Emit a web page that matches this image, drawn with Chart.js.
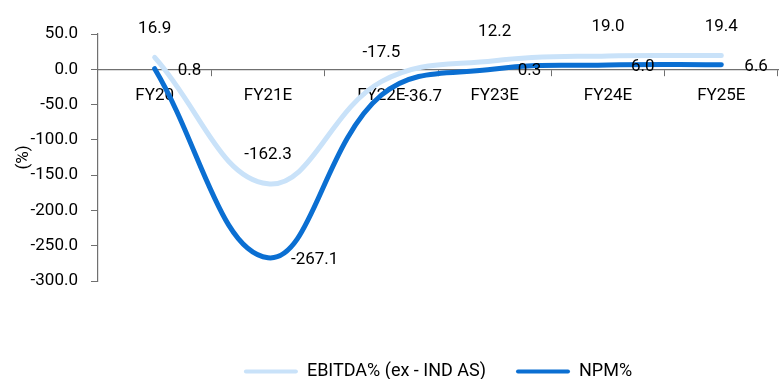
<!DOCTYPE html>
<html><head><meta charset="utf-8">
<script src="https://cdn.jsdelivr.net/npm/chart.js@4/dist/chart.umd.min.js"></script>
<style>html,body{margin:0;padding:0;background:#fff}#wrap{width:781px;height:379px}</style>
</head><body><div id="wrap"><canvas id="c" width="781" height="379"></canvas></div>
<script>
const categories = ['FY20', 'FY21E', 'FY22E', 'FY23E', 'FY24E', 'FY25E'];
const ebitdaMargin = [16.9, -162.3, -17.5, 12.2, 19.0, 19.4];
const netProfitMargin = [0.8, -267.1, -36.7, 0.3, 6.0, 6.6];
const seriesNames = ['EBITDA% (ex - IND AS)', 'NPM%'];
const yMin = -300, yMax = 50, yStep = 50;
const yTitle = '(%)';

const FONT = 'Roboto';
const FS = 17;
const AXIS = '#707070';

const valueLabels = {
  id: 'valueLabels',
  afterDatasetsDraw(chart) {
    const ctx = chart.ctx;
    ctx.save();
    ctx.font = FS + 'px ' + FONT;
    ctx.fillStyle = '#000';
    ctx.textBaseline = 'middle';
    chart.data.datasets.forEach((ds, i) => {
      const meta = chart.getDatasetMeta(i);
      meta.data.forEach((pt, j) => {
        const txt = ds.data[j].toFixed(1);
        if (i === 0) { ctx.textAlign = 'center'; ctx.fillText(txt, pt.x, pt.y - 29); }
        else { ctx.textAlign = 'left'; ctx.fillText(txt, pt.x + 23, pt.y + 2); }
      });
    });
    ctx.restore();
  }
};

new Chart(document.getElementById('c'), {
  type: 'line',
  data: {
    labels: categories,
    datasets: [
      { label: seriesNames[0], data: ebitdaMargin, borderColor: '#c9e2f9', backgroundColor: '#c9e2f9',
        borderWidth: 5, pointRadius: 0, tension: 0.4, fill: false, order: 1, borderCapStyle: 'round' },
      { label: seriesNames[1], data: netProfitMargin, borderColor: '#0b6fd2', backgroundColor: '#0b6fd2',
        borderWidth: 5, pointRadius: 0, tension: 0.4, fill: false, order: 0, borderCapStyle: 'round' }
    ]
  },
  options: {
    responsive: false,
    animation: false,
    events: [],
    layout: { padding: { top: 34, right: 3, left: 0, bottom: -11.5 } },
    font: { family: FONT, size: FS },
    scales: {
      x: {
        type: 'category',
        position: { y: 0 },
        offset: true,
        afterFit(s) { s.height = 0; },
        grid: { display: true, offset: true, drawOnChartArea: false, drawTicks: true, tickLength: 6, color: AXIS },
        border: { display: true, color: AXIS, width: 1.2 },
        ticks: { color: '#000', font: { family: FONT, size: FS }, padding: 10, maxRotation: 0, autoSkip: false }
      },
      y: {
        min: yMin, max: yMax,
        afterFit(s) { s.width = 98; },
        grid: { display: true, drawOnChartArea: false, drawTicks: true, tickLength: 7, color: AXIS },
        border: { display: true, color: AXIS, width: 1.2 },
        ticks: { stepSize: yStep, color: '#000', font: { family: FONT, size: FS }, padding: 13,
          callback: v => Number(v).toFixed(1) },
        title: { display: true, text: yTitle, color: '#000', font: { family: FONT, size: FS }, padding: { top: 14, bottom: 0 } }
      }
    },
    plugins: {
      tooltip: { enabled: false },
      legend: {
        position: 'bottom',
        fullSize: false,
        title: { display: true, text: ' ', font: { size: 12 }, padding: { top: 37.1, bottom: 0 } },
        labels: {
          boxWidth: 54, boxHeight: 4, padding: 30, color: '#000',
          font: { family: FONT, size: 18 },
          generateLabels(chart) {
            return chart.data.datasets.map((ds, i) => ({
              text: ds.label, fillStyle: ds.borderColor, strokeStyle: ds.borderColor,
              lineWidth: 0, hidden: false, datasetIndex: i, fontColor: '#000', borderRadius: 2
            }));
          }
        }
      }
    }
  },
  plugins: [valueLabels]
});
</script></body></html>
